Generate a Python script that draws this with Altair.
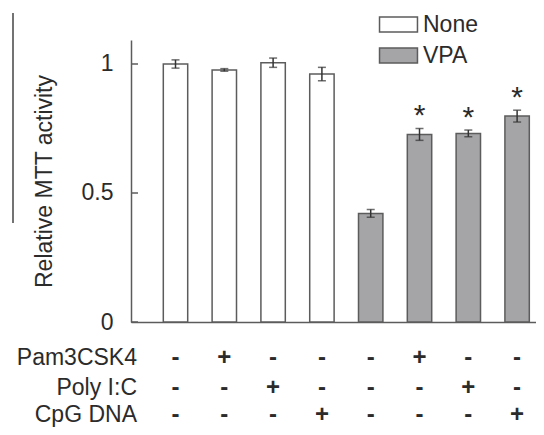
import altair as alt
import pandas as pd

# ---- data ----
groups = ["None", "None", "None", "None", "VPA", "VPA", "VPA", "VPA"]
values = [1.000, 0.977, 1.005, 0.961, 0.421, 0.727, 0.731, 0.798]
errors = [0.016, 0.005, 0.018, 0.026, 0.015, 0.023, 0.013, 0.023]
stars = ["", "", "", "", "", "*", "*", "*"]
row_names = ["Pam3CSK4", "Poly I:C", "CpG DNA"]
pam3csk4 = ["-", "+", "-", "-", "-", "+", "-", "-"]
poly_ic = ["-", "-", "+", "-", "-", "-", "+", "-"]
cpg_dna = ["-", "-", "-", "+", "-", "-", "-", "+"]
y_ticks = [0, 0.5, 1]
legend_labels = ["None", "VPA"]

FONT = "Liberation Sans"
TXT = "#2b2b2b"
LINE = "#5c5c5c"

df = pd.DataFrame({
    "idx": list(range(len(values))),
    "group": groups,
    "value": values,
    "err": errors,
    "star": stars,
    "pam": pam3csk4,
    "poly": poly_ic,
    "cpg": cpg_dna,
})
df["lo"] = df["value"] - df["err"]
df["hi"] = df["value"] + df["err"]
df["xa"] = df["idx"] - 0.25
df["xb"] = df["idx"] + 0.25

xscale = alt.Scale(domain=[-0.912, 7.387], nice=False, zero=False)
yscale = alt.Scale(domain=[0, 1.093], nice=False)

xaxis = alt.Axis(labels=False, ticks=False, grid=False, title=None,
                 domainColor=LINE, domainWidth=1.5)
yaxis = alt.Axis(values=y_ticks, ticks=False, grid=False, labelFontSize=23,
                 labelFont=FONT, labelColor=TXT, labelPadding=18,
                 labelExpr="datum.value == 0 ? '0' : datum.value == 1 ? '1' : '0.5'",
                 domainColor=LINE, domainWidth=1.5,
                 title="Relative MTT activity", titleFont=FONT, titleFontSize=23,
                 titleFontWeight="normal", titleColor=TXT, titlePadding=25)

base = alt.Chart(df)

bars = base.mark_bar(stroke=LINE, strokeWidth=1.5).encode(
    x=alt.X("xa:Q", scale=xscale, axis=xaxis),
    x2="xb:Q",
    y=alt.Y("value:Q", scale=yscale, axis=yaxis),
    y2=alt.datum(0),
    fill=alt.Fill("group:N",
                  scale=alt.Scale(domain=legend_labels, range=["#ffffff", "#a5a5a8"]),
                  legend=alt.Legend(title=None, orient="none", legendX=256, legendY=-27,
                                    symbolType="M-2.53,-1H2.53V1H-2.53Z", symbolSize=225,
                                    symbolStrokeColor=LINE, symbolStrokeWidth=1.5,
                                    labelFont=FONT, labelFontSize=23, labelColor=TXT,
                                    labelOffset=13, rowPadding=7, padding=0)),
)

stem = base.mark_rule(color="#333333", strokeWidth=1.5).encode(
    x="idx:Q", y="lo:Q", y2="hi:Q")
cap_hi = base.mark_tick(orient="horizontal", size=8, thickness=1.5, color="#333333").encode(
    x="idx:Q", y="hi:Q")
cap_lo = base.mark_tick(orient="horizontal", size=8, thickness=1.5, color="#333333").encode(
    x="idx:Q", y="lo:Q")

star_txt = base.mark_text(font=FONT, fontSize=30, color=TXT, baseline="alphabetic", dy=-3).encode(
    x="idx:Q", y="hi:Q", text="star:N")

# inward y-axis ticks
tick_df = pd.DataFrame({"v": y_ticks})
yt = alt.Chart(tick_df).mark_rule(color=LINE, strokeWidth=1.5).encode(
    y="v:Q", x=alt.value(0), x2=alt.value(7))

# condition table under the axis
row_cols = ["pam", "poly", "cpg"]
row_base = [325, 355, 382]
layers = [bars, stem, cap_hi, cap_lo, star_txt, yt]
for name, col, yb in zip(row_names, row_cols, row_base):
    layers.append(base.mark_text(font=FONT, fontSize=24, fontWeight="bold", color=TXT,
                                 baseline="alphabetic").encode(
        x="idx:Q", y=alt.value(yb), text=f"{col}:N"))
    lab = pd.DataFrame({"name": [name]})
    layers.append(alt.Chart(lab).mark_text(font=FONT, fontSize=23, color=TXT, align="right",
                                           baseline="alphabetic").encode(
        x=alt.value(6), y=alt.value(yb), text="name:N"))

# cropped frame line at the far left of the figure
frame = alt.Chart(pd.DataFrame({"k": [0]})).mark_rule(color="#444444", strokeWidth=1.5).encode(
    x=alt.value(-118), y=alt.value(-27), y2=alt.value(183))
layers.append(frame)

chart = alt.layer(*layers).properties(
    width=405, height=282,
    padding={"left": 123, "top": 32, "right": 0, "bottom": 105},
    autosize=alt.AutoSizeParams(type="none"),
).configure_view(stroke=None)

chart.save("out.html", embed_options={"renderer": "svg", "actions": False})
